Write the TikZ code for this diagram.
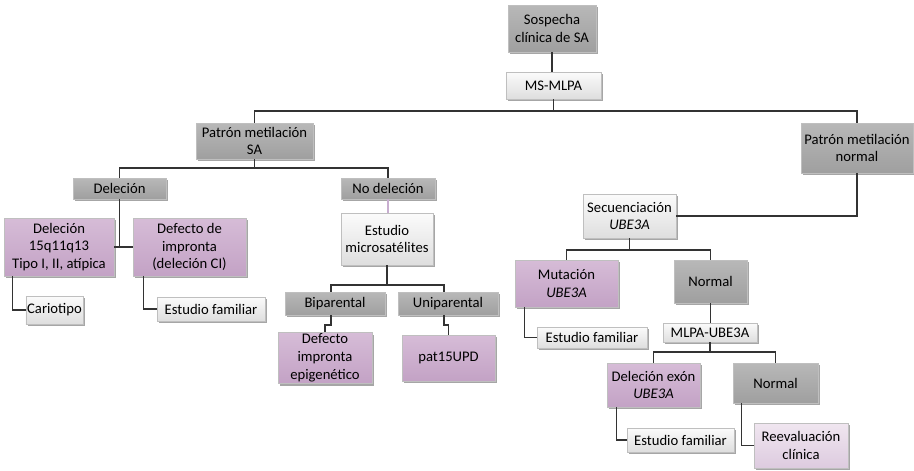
\documentclass[tikz,border=0pt]{standalone}
\usepackage{fontspec}
\setmainfont{Carlito}
\usetikzlibrary{shadows,calc}
\definecolor{dkT}{HTML}{B8B8B8}
\definecolor{dkB}{HTML}{9F9F9F}
\definecolor{ltT}{HTML}{FBFBFB}
\definecolor{ltB}{HTML}{DEDEDE}
\definecolor{puT}{HTML}{D6BCD7}
\definecolor{puB}{HTML}{C3A2C5}
\definecolor{lpT}{HTML}{F0E6F0}
\definecolor{lpB}{HTML}{DDCBDF}
\definecolor{lineP}{HTML}{C8AED0}
\tikzset{
  box/.style n args={2}{rectangle, inner sep=1pt, align=center,
    minimum width=#1*0.75pt, minimum height=#2*0.75pt,
    font=\fontsize{11}{13.4}\selectfont, text=black,
    draw=black!25, line width=0.3pt,
    drop shadow={shadow xshift=1.6pt, shadow yshift=-1.6pt, fill=black, opacity=0.35}},
  dk/.style={top color=dkT, bottom color=dkB},
  lt/.style={top color=ltT, bottom color=ltB},
  pu/.style={top color=puT, bottom color=puB},
  lp/.style={top color=lpT, bottom color=lpB},
  conn/.style={draw=black!80, line width=1pt},
}
\begin{document}
\begin{tikzpicture}[x=0.75pt,y=-0.75pt]
\useasboundingbox (0,0) rectangle (914,471);
% nodes
\node[box={88}{47},dk] (sos) at (552,28.5) {Sospecha\\clínica de SA};
\node[box={95}{27},lt] (ms) at (553.5,85.5) {MS-MLPA};
\node[box={117}{36},dk] (psa) at (254.5,141) {Patrón metilación\\SA};
\node[box={112}{50},dk] (pn) at (857,148) {Patrón metilación\\normal};
\node[box={93}{21},dk] (del) at (119.5,188.5) {Deleción};
\node[box={94}{21},dk] (nodel) at (388,188.5) {No deleción};
\node[box={110}{58},pu] (d15) at (59,247) {Deleción\\15q11q13\\Tipo I, II, atípica};
\node[box={113}{58},pu] (dimp) at (189.5,247) {Defecto de\\impronta\\(deleción CI)};
\node[box={57}{28},lt] (cario) at (54.5,310) {Cariotipo};
\node[box={108}{24},lt] (ef1) at (211,309) {Estudio familiar};
\node[box={92}{52},lt] (micro) at (387,239) {Estudio\\microsatélites};
\node[box={100}{23},dk] (bip) at (335,303.5) {Biparental};
\node[box={100}{23},dk] (unip) at (448,303.5) {Uniparental};
\node[box={94}{46},pu] (depi) at (325,358) {Defecto\\impronta\\epigenético};
\node[box={93}{46},pu] (pat) at (448.5,358) {pat15UPD};
\node[box={93}{44},lt] (sec) at (629.5,216) {Secuenciación\\\textit{UBE3A}};
\node[box={103}{47},pu] (mut) at (566.5,283.5) {Mutación\\\textit{UBE3A}};
\node[box={73}{43},dk] (nor1) at (710.5,281.5) {Normal};
\node[box={110}{21},lt] (ef2) at (592,337.5) {Estudio familiar};
\node[box={94}{19},lt] (mlpa) at (710,332.5) {MLPA-UBE3A};
\node[box={93}{44},pu] (dex) at (653.5,385) {Deleción exón\\\textit{UBE3A}};
\node[box={85}{40},dk] (nor2) at (775.5,383) {Normal};
\node[box={107}{24},lt] (ef3) at (680.5,440) {Estudio familiar};
\node[box={94}{45},lp] (reev) at (801,445.5) {Reevaluación\\clínica};
% bus coordinates
\coordinate (b1) at (0,111);
\coordinate (b2) at (0,168);
\coordinate (b3) at (0,285);
\coordinate (b4) at (0,250);
\coordinate (b5) at (0,352);
\coordinate (j1) at (0,325);
\coordinate (bipx) at (331,0);
\coordinate (unipx) at (444,0);
% connectors
\draw[conn] (sos.south) -- (sos.south |- ms.north);
\draw[conn] (ms.south) -- (ms.south |- b1);
\draw[conn] (psa.north) -- (psa.north |- b1) -- (pn.north |- b1) -- (pn.north);
\draw[conn] (psa.south) -- (psa.south |- b2);
\draw[conn] (del.north) -- (del.north |- b2) -- (nodel.north |- b2) -- (nodel.north);
\draw[conn] (del.south) -- (del.south |- d15.east);
\draw[conn] (d15.east) -- (dimp.west);
\draw[conn] ($(d15.south west)+(9,0)$) |- (cario.west);
\draw[conn] ($(dimp.south west)+(11,0)$) |- (ef1.west);
\draw[draw=lineP, line width=1.2pt] (nodel.south) -- (nodel.south |- micro.north);
\draw[conn] (micro.south) -- (micro.south |- b3);
\draw[conn] (bipx |- bip.north) -- (bipx |- b3) -- (unipx |- b3) -- (unipx |- unip.north);
\draw[conn] (bipx |- bip.south) -- (bipx |- j1) -| (depi.north);
\draw[conn] (unipx |- unip.south) -- (unipx |- j1) -| (pat.north);
\draw[conn] (pn.south) |- (sec.east);
\draw[conn] (sec.south) -- (sec.south |- b4);
\draw[conn] (mut.north) -- (mut.north |- b4) -- (nor1.north |- b4) -- (nor1.north);
\draw[conn] ($(mut.south west)+(10,0)$) |- (ef2.west);
\draw[conn] (nor1.south) -- (nor1.south |- mlpa.north);
\draw[conn] (mlpa.south) -- (mlpa.south |- b5);
\draw[conn] (dex.north) -- (dex.north |- b5) -- (nor2.north |- b5) -- (nor2.north);
\draw[conn] ($(dex.south west)+(10,0)$) |- (ef3.west);
\draw[conn] ($(nor2.south west)+(9,0)$) |- (reev.west);
\end{tikzpicture}
\end{document}
